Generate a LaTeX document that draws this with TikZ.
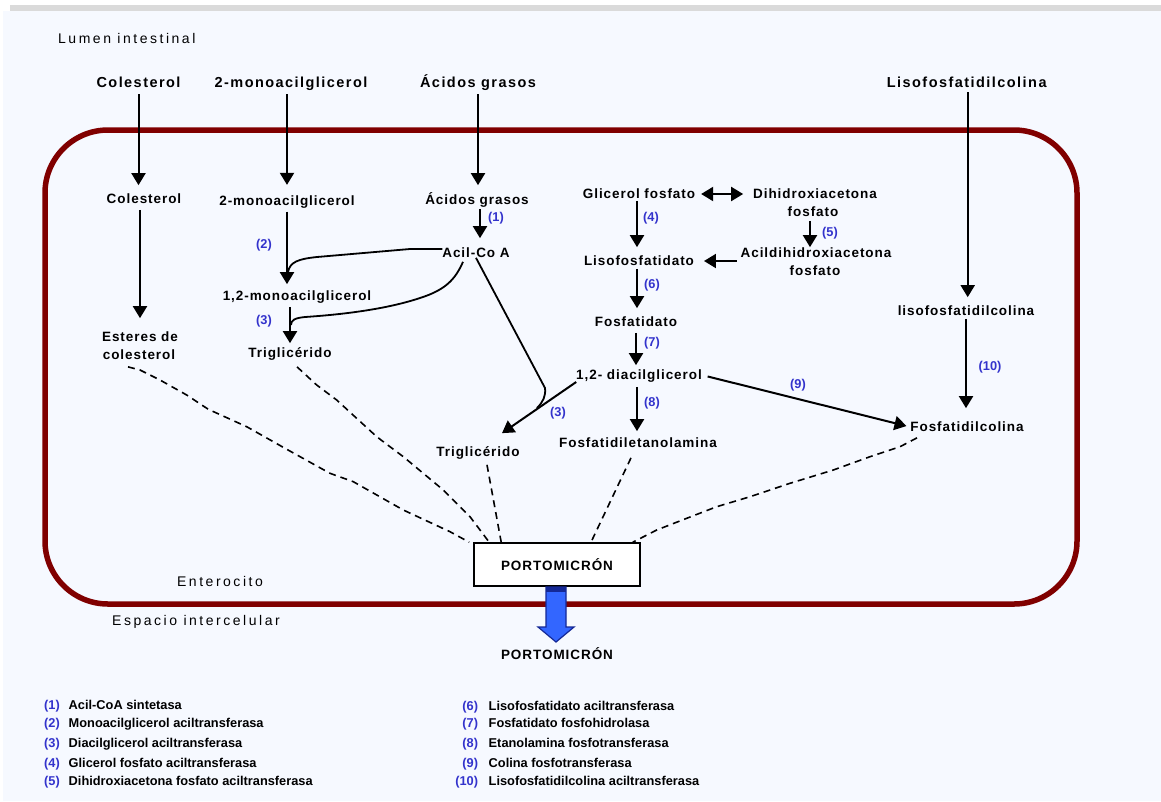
\documentclass[tikz,border=0pt]{standalone}
\usepackage{fontspec}
\setmainfont{Liberation Sans}
\newfontfamily\lsA[LetterSpace=7]{Liberation Sans}
\newfontfamily\lsB[LetterSpace=10]{Liberation Sans}
\newfontfamily\lsC[LetterSpace=18]{Liberation Sans}
\usetikzlibrary{arrows.meta,calc}
\definecolor{bgc}{RGB}{246,249,255}
\definecolor{barc}{RGB}{218,218,218}
\definecolor{cellc}{RGB}{128,0,0}
\definecolor{enz}{RGB}{51,51,204}
\definecolor{blufill}{RGB}{51,102,255}
\definecolor{bluline}{RGB}{20,40,150}
\tikzset{
 inner/.style={font={\lsA\bfseries\fontsize{13.5}{16}\selectfont}, inner sep=0pt, outer sep=0pt, text height=9.7pt, text depth=0pt},
 outer/.style={font={\lsB\bfseries\fontsize{14.5}{17}\selectfont}, inner sep=0pt, outer sep=0pt, text height=10.5pt, text depth=0pt},
 zone/.style={font={\lsC\fontsize{14}{17}\selectfont}, inner sep=0pt, text height=10pt, text depth=0pt},
 num/.style={font={\bfseries\fontsize{12.8}{15}\selectfont}, text=enz, inner sep=0pt, text height=9pt, text depth=0pt},
 leg/.style={font={\bfseries\fontsize{12.8}{15}\selectfont}, inner sep=0pt, text height=9pt, text depth=0pt, anchor=west},
 arr/.style={line width=2pt, -{Triangle[width=14pt,length=12pt]}},
 curv/.style={line width=1.8pt},
 dsh/.style={line width=1.6pt, dash pattern=on 7pt off 5pt},
}
\begin{document}
\begin{tikzpicture}[x=1pt,y=-1pt]
\useasboundingbox (0,0) rectangle (1161,801);
\fill[bgc] (3,11) rectangle (1161,801);
\fill[barc] (10,5) rectangle (1161,11);
% cell
\draw[cellc, line width=5.5pt, rounded corners=63pt] (45,130) rectangle (1077,604);
% zone labels
\node[zone, anchor=west] (lumen) at (58,38) {Lumen intestinal};
\node[zone] (entero) at (220,581) {Enterocito};
\node[zone] (espacio) at (196,620) {Espacio intercelular};
% outer labels
\node[outer] (colO) at (138.5,82) {Colesterol};
\node[outer] (monoO) at (291,82) {2-monoacilglicerol};
\node[outer] (acO) at (478,82) {Ácidos grasos};
\node[outer] (lisoO) at (966.7,82) {Lisofosfatidilcolina};
% inner labels
\node[inner] (colI) at (144,199) {Colesterol};
\node[inner] (est1) at (140,337) {Esteres de};
\node[inner] (est2) at (139,355) {colesterol};
\node[inner] (monoI) at (287,200.7) {2-monoacilglicerol};
\node[inner] (mono12) at (297,296) {1,2-monoacilglicerol};
\node[inner] (tri1) at (290,353) {Triglicérido};
\node[inner] (acI) at (477,200) {Ácidos grasos};
\node[inner] (acil) at (476,253) {Acil-Co A};
\node[inner] (tri2) at (478,452) {Triglicérido};
\node[inner] (gf) at (639,194) {Glicerol fosfato};
\node[inner] (dhap1) at (815,194) {Dihidroxiacetona};
\node[inner] (dhap2) at (813,212) {fosfato};
\node[inner] (adhap1) at (816,253) {Acildihidroxiacetona};
\node[inner] (adhap2) at (815,271) {fosfato};
\node[inner] (lpa) at (639,261) {Lisofosfatidato};
\node[inner] (fa) at (636,322) {Fosfatidato};
\node[inner] (diacil) at (639,375) {1,2- diacilglicerol};
\node[inner] (fetn) at (638,443) {Fosfatidiletanolamina};
\node[inner] (lisoI) at (966,311) {lisofosfatidilcolina};
\node[inner] (fcol) at (967,427) {Fosfatidilcolina};
% enzyme numbers
\node[num] (n1) at (496,217) {(1)};
\node[num] (n2) at (264,244) {(2)};
\node[num] (n3a) at (264,320) {(3)};
\node[num] (n3b) at (558,412) {(3)};
\node[num] (n4) at (651,217) {(4)};
\node[num] (n5) at (830,232) {(5)};
\node[num] (n6) at (652,284) {(6)};
\node[num] (n7) at (652,342) {(7)};
\node[num] (n8) at (652,402) {(8)};
\node[num] (n9) at (798,384) {(9)};
\node[num] (n10) at (990,366) {(10)};
% arrows
\draw[arr, shorten <=7pt, shorten >=9pt] (colO.south) -- (colO.south |- colI.north);
\draw[arr, shorten <=6pt, shorten >=14pt] (est1.north |- colI.south) -- (est1.north);
\draw[arr, shorten <=7pt, shorten >=11pt] (monoI.north |- monoO.south) -- (monoI.north);
\draw[arr, shorten <=6pt, shorten >=7pt] (monoI.south) -- (monoI.south |- mono12.north);
\draw[arr, shorten <=6pt, shorten >=5pt] (tri1.north |- mono12.south) -- (tri1.north);
\draw[arr, shorten <=7pt, shorten >=10pt] (acO.south) -- (acO.south |- acI.north);
\draw[arr, shorten <=4pt, shorten >=10pt] ([xshift=3pt]acI.south) -- ([xshift=3pt]acI.south |- acil.north);
\draw[arr, shorten <=5pt, shorten >=9pt] ([xshift=1pt]lisoO.south) -- ([xshift=1pt]lisoO.south |- lisoI.north);
\draw[arr, shorten <=3pt, shorten >=14pt] (lisoI.south) -- (lisoI.south |- fcol.north);
\draw[arr, shorten <=2pt, shorten >=9pt] ([xshift=-2pt]gf.south) -- ([xshift=-2pt]gf.south |- lpa.north);
\draw[arr, shorten <=3pt, shorten >=9pt] ([xshift=-2pt]lpa.south) -- ([xshift=-2pt]lpa.south |- fa.north);
\draw[arr, shorten <=6pt, shorten >=5pt] (fa.south) -- (fa.south |- diacil.north);
\draw[arr, shorten <=7pt, shorten >=7pt] ([xshift=-2pt]diacil.south) -- ([xshift=-2pt]diacil.south |- fetn.north);
\draw[arr, shorten <=4pt, shorten >=1pt] ([xshift=-3pt]dhap2.south) -- ([xshift=-3pt]dhap2.south |- adhap1.north);
\draw[arr, shorten <=4pt, shorten >=10pt] (lpa.east -| adhap1.west) -- (lpa.east);
\draw[line width=2pt, {Triangle[width=14pt,length=12pt]}-{Triangle[width=14pt,length=12pt]}, shorten <=6pt, shorten >=10pt] (gf.east) -- (gf.east -| dhap1.west);
\draw[arr, shorten <=6pt, shorten >=4pt] (diacil.east) -- (fcol.west);
% (3) arrow from diacylglycerol
\draw[arr] ([yshift=-7pt]diacil.west) -- ([xshift=24pt,yshift=14pt]tri2.north);
% acyl-CoA branches
\coordinate (j2) at (288,272);
\coordinate (j3a) at (291,325);
\coordinate (j3b) at (537,408);
\draw[curv] ([yshift=4pt]acil.west) -- (410,249) -- (317,257) .. controls (298,259) and (290,262) .. (j2);
\draw[curv] ([xshift=-13pt,yshift=-4pt]acil.south) .. controls (455,280) and (445,290) .. (420,298) .. controls (390,308) and (350,314) .. (305,317) .. controls (295,318) and (291,320) .. (j3a);
\draw[curv] (acil.south) -- (545,388) .. controls (546,396) and (543,402) .. (j3b);
% portomicron
\node[draw, line width=1.6pt, fill=white, minimum width=166pt, minimum height=43pt, inner sep=0pt, font={\lsA\bfseries\fontsize{13.5}{16}\selectfont}] (port) at (557,564.5) {PORTOMICRÓN};
\draw[bluline, fill=blufill, line width=1.2pt] (546,587) -- (566,587) -- (566,627) -- (574,627) -- (556,642) -- (538,627) -- (546,627) -- cycle;
\fill[bluline] (546,587) rectangle (566,592);
\node[inner] (port2) at (557,655) {PORTOMICRÓN};
% dashed connectors
\draw[dsh] ([xshift=-11pt,yshift=-7pt]est2.south) -- (140,370) -- (160,380) -- (186.7,395) -- (208.3,409.3) -- (246.7,426.7) -- (285,448.3) -- (330,473.3) -- (353.3,481.7) -- (403.3,510) -- (450,531.7) -- ([xshift=-4pt]port.north west);
\draw[dsh] ([xshift=7pt,yshift=-9pt]tri1.south) -- (316.7,385) -- (336.7,400) -- (376.7,436.7) -- (403.3,456.7) -- (443.3,490) -- (470,516.7) -- ([xshift=16pt]port.north west);
\draw[dsh] ([xshift=9pt,yshift=-8pt]tri2.south) -- ([xshift=28pt]port.north west);
\draw[dsh] ([xshift=-7pt,yshift=-10pt]fetn.south) -- ([xshift=34pt]port.north);
\draw[dsh] ([xshift=-50pt,yshift=-6pt]fcol.south) -- (900,446.7) -- (870,456.7) -- (833.3,470) -- (790,483.3) -- (750,496.7) -- (716.7,506.7) -- (686.7,518.3) -- (656.7,530) -- ([xshift=-8pt]port.north east);
% legend
\node[num, anchor=east] (l1) at (60,705) {(1)};
\node[num, anchor=east] (l2) at (60,723.3) {(2)};
\node[num, anchor=east] (l3) at (60,743.3) {(3)};
\node[num, anchor=east] (l4) at (60,762.7) {(4)};
\node[num, anchor=east] (l5) at (60,781) {(5)};
\node[leg] (t1) at (68.5,705) {Acil-CoA sintetasa};
\node[leg] (t2) at (68.5,723.3) {Monoacilglicerol aciltransferasa};
\node[leg] (t3) at (68.5,743.3) {Diacilglicerol aciltransferasa};
\node[leg] (t4) at (68.5,762.7) {Glicerol fosfato aciltransferasa};
\node[leg] (t5) at (68.5,781) {Dihidroxiacetona fosfato aciltransferasa};
\node[num, anchor=east] (l6) at (478.3,705.7) {(6)};
\node[num, anchor=east] (l7) at (478.3,723.3) {(7)};
\node[num, anchor=east] (l8) at (478.3,743.3) {(8)};
\node[num, anchor=east] (l9) at (478.3,762.7) {(9)};
\node[num, anchor=east] (l10) at (478.3,780.7) {(10)};
\node[leg] (t6) at (488.5,705.7) {Lisofosfatidato aciltransferasa};
\node[leg] (t7) at (488.5,723.3) {Fosfatidato fosfohidrolasa};
\node[leg] (t8) at (488.5,743.3) {Etanolamina fosfotransferasa};
\node[leg] (t9) at (488.5,762.7) {Colina fosfotransferasa};
\node[leg] (t10) at (488.5,780.7) {Lisofosfatidilcolina aciltransferasa};
\end{tikzpicture}
\end{document}
